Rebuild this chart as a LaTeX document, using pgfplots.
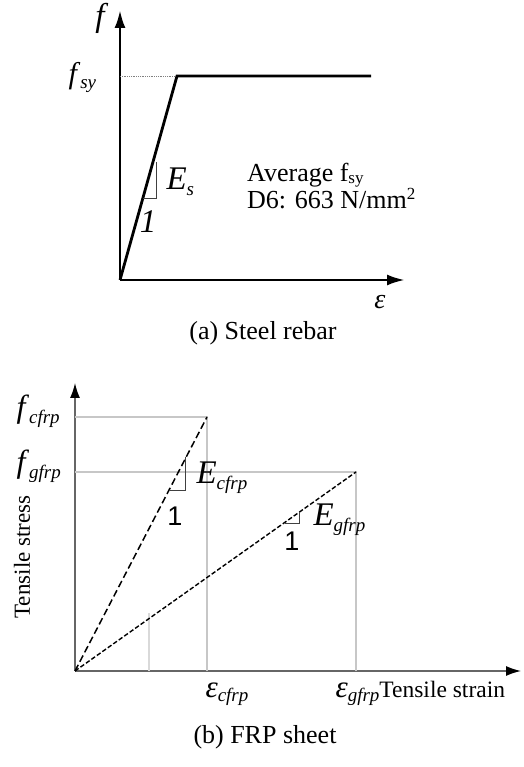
\documentclass[border=0pt]{standalone}
\usepackage{fontspec}
\setmainfont{Liberation Serif}
\newfontfamily\sansf{Liberation Sans}
\usepackage{pgfplots}
\pgfplotsset{compat=1.18}
\usetikzlibrary{arrows.meta}
\newcommand{\sym}[2]{\textit{#1}\raisebox{-0.35ex}{\fontsize{19}{21}\selectfont\textit{#2}}}
\begin{document}
\begin{tikzpicture}
\path[use as bounding box] (0,0) rectangle (523pt,767pt);
% ---------- (a) steel rebar ----------
\begin{axis}[
  at={(120pt,487pt)}, anchor=south west,
  scale only axis, width=285pt, height=270pt,
  xmin=0, xmax=285, ymin=0, ymax=270,
  axis lines=left, clip=false,
  xtick=\empty, ytick=\empty,
  axis line style={line width=2.8pt, -{Latex[length=18pt,width=11pt]}},
  every axis plot/.append style={line join=miter},
]
\addplot[gray, densely dotted, line width=0.8pt] coordinates {(0,204) (57,204)};
\addplot[black, line width=2.8pt] coordinates {(0,0) (57,204) (251,204)};
\addplot[black!75, line width=0.9pt] coordinates {(23,82) (36,82) (36,118)};
\node[font=\fontsize{33}{36}\selectfont\itshape] at (axis cs:-20,262) {f};
\node[anchor=base west, font=\fontsize{30}{34}\selectfont] at (axis cs:-55,196) {\sym{f}{sy}};
\node[anchor=base west, font=\fontsize{33}{36}\selectfont] at (axis cs:43,90) {\sym{E}{s}};
\node[font=\fontsize{33}{36}\selectfont\itshape] at (axis cs:28,58) {1};
\node[anchor=north west, inner sep=0pt, align=left, font=\fontsize{26}{25}\selectfont] at (axis cs:127,117) {Average f\raisebox{-0.2ex}{\fontsize{17}{19}\selectfont sy}\\D6: 663 N/mm\raisebox{0.7ex}{\fontsize{17}{19}\selectfont 2}};
\node[font=\fontsize{28}{32}\selectfont\itshape] at (axis cs:260,-22) {ε};
\node[anchor=base, font=\fontsize{26}{30}\selectfont] at (axis cs:143,-60) {(a) Steel rebar};
\end{axis}
% ---------- (b) FRP sheet ----------
\begin{axis}[
  at={(75pt,96pt)}, anchor=south west,
  scale only axis, width=446pt, height=288pt,
  xmin=0, xmax=446, ymin=0, ymax=288,
  axis lines=left, clip=false,
  xtick=\empty, ytick=\empty,
  axis line style={black!60, line width=1.4pt, -{Latex[length=15pt,width=10pt,black]}},
]
\addplot[black!22, line width=1.4pt] coordinates {(0,254) (132,254) (132,0)};
\addplot[black!22, line width=1.4pt] coordinates {(0,199) (281,199) (281,0)};
\addplot[black!15, line width=1.2pt] coordinates {(74,0) (74,58)};
\addplot[black, line width=1.5pt, dash pattern=on 7pt off 3.5pt] coordinates {(0,0) (132,254)};
\addplot[black, line width=1.4pt, dash pattern=on 4.5pt off 2.2pt] coordinates {(0,0) (281,199)};
\addplot[black!75, line width=0.9pt] coordinates {(94,181) (110,181) (110,214)};
\addplot[black!75, line width=0.9pt] coordinates {(210,148) (224,148) (224,159)};
\node[anchor=base west, font=\fontsize{32}{36}\selectfont] at (axis cs:-62,253) {\sym{f}{cfrp}};
\node[anchor=base west, font=\fontsize{32}{36}\selectfont] at (axis cs:-62,198) {\sym{f}{gfrp}};
\node[rotate=90, font=\fontsize{23}{27}\selectfont] at (axis cs:-53,114) {Tensile stress};
\node[anchor=base west, font=\fontsize{33}{36}\selectfont] at (axis cs:118,187) {\sym{E}{cfrp}};
\node[font=\sansf\fontsize{27}{30}\selectfont] at (axis cs:100,155) {1};
\node[anchor=base west, font=\fontsize{33}{36}\selectfont] at (axis cs:235,145) {\sym{E}{gfrp}};
\node[font=\sansf\fontsize{27}{30}\selectfont] at (axis cs:217,130) {1};
\node[anchor=base west, font=\fontsize{31}{34}\selectfont] at (axis cs:127,-26) {\sym{ε}{cfrp}};
\node[anchor=base west, font=\fontsize{31}{34}\selectfont] at (axis cs:257,-26) {\sym{ε}{gfrp}\fontsize{23.5}{27}\selectfont Tensile strain};
\node[anchor=base, font=\fontsize{26}{30}\selectfont] at (axis cs:190,-72) {(b) FRP sheet};
\end{axis}
\end{tikzpicture}
\end{document}
